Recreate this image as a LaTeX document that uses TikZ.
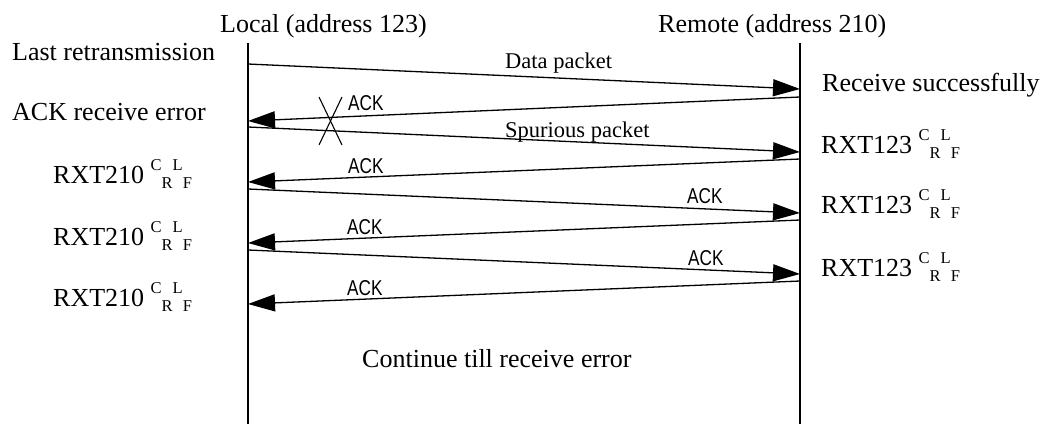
\documentclass[tikz,border=0pt]{standalone}
\usepackage{fontspec}
\setmainfont{Liberation Serif}
\newfontfamily\ackfont[FakeStretch=0.8]{Liberation Sans}
\usetikzlibrary{arrows.meta}
\newcommand\crlfmark{{\fontsize{16.5}{18}\selectfont\raisebox{13pt}{C}\raisebox{-5pt}{R}\raisebox{13pt}{L}\raisebox{-5pt}{F}}}
\begin{document}
\begin{tikzpicture}[x=1pt,y=-1pt,
  life/.style={line width=1.3pt},
  msg/.style={line width=1.3pt,-{Triangle[length=27pt,width=17pt]}},
  lbl/.style={inner sep=0pt,anchor=base west,font=\fontsize{26}{30}\selectfont},
  plbl/.style={inner sep=0pt,anchor=base west,font=\fontsize{22.5}{26}\selectfont},
  acklbl/.style={inner sep=0pt,anchor=base west,font=\ackfont\fontsize{21.5}{24}\selectfont},
]
\useasboundingbox (0,0) rectangle (1045,424);

% lifelines
\coordinate (LT) at (248,43);
\coordinate (LB) at (248,424);
\coordinate (RT) at (800,43);
\coordinate (RB) at (800,424);
\draw[life] (LT) -- (LB);
\draw[life] (RT) -- (RB);

% headers
\node[lbl] (hl) at (220,32) {Local (address 123)};
\node[lbl] (hr) at (658,32) {Remote (address 210)};

% message end points
\coordinate (a1s) at (248,64);  \coordinate (a1e) at (800,89);
\coordinate (a2s) at (800,97);  \coordinate (a2e) at (248,121);
\coordinate (a3s) at (248,127); \coordinate (a3e) at (800,152);
\coordinate (a4s) at (800,159); \coordinate (a4e) at (248,182);
\coordinate (a5s) at (248,189); \coordinate (a5e) at (800,213);
\coordinate (a6s) at (800,220); \coordinate (a6e) at (248,243);
\coordinate (a7s) at (248,250); \coordinate (a7e) at (800,274);
\coordinate (a8s) at (800,281); \coordinate (a8e) at (248,304);

\draw[msg] (a1s) -- (a1e);
\draw[msg] (a2s) -- (a2e);
\draw[msg] (a3s) -- (a3e);
\draw[msg] (a4s) -- (a4e);
\draw[msg] (a5s) -- (a5e);
\draw[msg] (a6s) -- (a6e);
\draw[msg] (a7s) -- (a7e);
\draw[msg] (a8s) -- (a8e);

% cross on lost ACK
\coordinate (x1) at (319,97);  \coordinate (x2) at (342,145);
\coordinate (x3) at (342,97);  \coordinate (x4) at (319,145);
\draw[line width=1.1pt] (x1) -- (x2);
\draw[line width=1.1pt] (x3) -- (x4);

% message labels
\node[plbl] (m1) at (505,68) {Data packet};
\node[acklbl] (m2) at (348,110) {ACK};
\node[plbl] (m3) at (505,137) {Spurious packet};
\node[acklbl] (m4) at (348,173) {ACK};
\node[acklbl] (m5) at (687,203) {ACK};
\node[acklbl] (m6) at (347,234) {ACK};
\node[acklbl] (m7) at (688,265) {ACK};
\node[acklbl] (m8) at (347,295) {ACK};

% left side labels
\node[lbl] (l1) at (12,60) {Last retransmission};
\node[lbl] (l2) at (12,120) {ACK receive error};
\node[lbl] (l3) at (53,183) {RXT210 \crlfmark};
\node[lbl] (l4) at (53,245) {RXT210 \crlfmark};
\node[lbl] (l5) at (53,306) {RXT210 \crlfmark};

% right side labels
\node[lbl] (r1) at (822,91) {Receive successfully};
\node[lbl] (r2) at (821,153) {RXT123 \crlfmark};
\node[lbl] (r3) at (821,213) {RXT123 \crlfmark};
\node[lbl] (r4) at (821,276) {RXT123 \crlfmark};

% bottom note
\node[lbl] (cont) at (362,367) {Continue till receive error};
\end{tikzpicture}
\end{document}
